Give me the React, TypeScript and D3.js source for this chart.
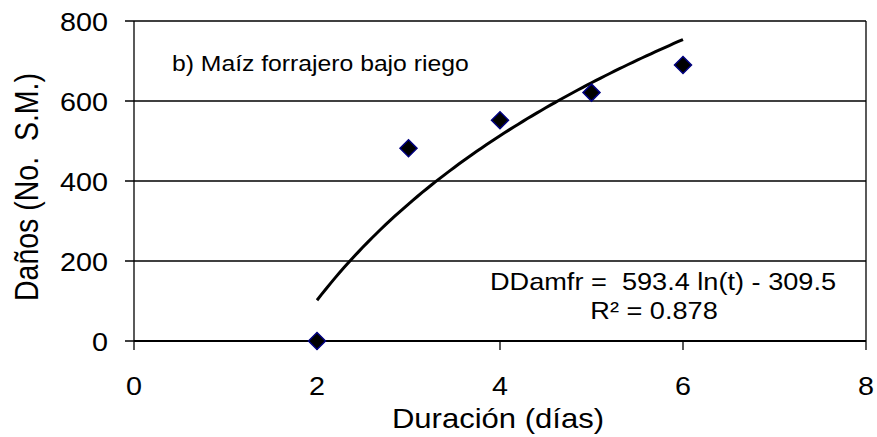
import React from "react";
import * as d3 from "d3";

const days = [2, 3, 4, 5, 6];
const damage = [0, 482, 552, 621, 690];
const xTicks = [0, 2, 4, 6, 8];
const yTicks = [0, 200, 400, 600, 800];
const fitA = 593.4;
const fitB = -309.5;

const W = 877;
const H = 437;
const left = 134;
const right = 866;
const top = 21;
const bottom = 341;
const SX = 1.15; // horizontal glyph stretch

type LabelProps = {
  x: number;
  y: number;
  size: number;
  anchor?: "start" | "middle" | "end";
  rotate?: number;
  children: React.ReactNode;
};

function Label({ x, y, size, anchor = "start", rotate = 0, children }: LabelProps) {
  return (
    <g transform={`translate(${x},${y}) scale(${SX},1) rotate(${rotate})`}>
      <text x={0} y={0} fontSize={size} textAnchor={anchor} style={{ whiteSpace: "pre" }}>
        {children}
      </text>
    </g>
  );
}

export default function App() {
  const x = d3.scaleLinear().domain([0, 8]).range([left, right]);
  const y = d3.scaleLinear().domain([0, 800]).range([bottom, top]);
  const font = "'Liberation Sans', Arial, sans-serif";

  const fitPts = d3.range(2, 6.0001, 0.05).map((t) => [t, fitA * Math.log(t) + fitB] as [number, number]);
  const line = d3
    .line<[number, number]>()
    .x((d) => x(d[0]))
    .y((d) => y(d[1]))
    .curve(d3.curveMonotoneX);

  const r = 8.5;
  const diamond = `M0,${-r}L${r},0L0,${r}L${-r},0Z`;

  return (
    <svg width={W} height={H} style={{ position: "absolute", left: 0, top: 0, background: "#fff" }} fontFamily={font}>
      <rect x={0} y={0} width={W} height={H} fill="#fff" />
      {yTicks.map((v) => (
        <g key={v}>
          <line x1={left - 9} x2={right} y1={y(v)} y2={y(v)} stroke="#000" strokeWidth={1.3} />
          <Label x={108} y={y(v) + 10} size={25} anchor="end">
            {v}
          </Label>
        </g>
      ))}
      <line x1={left} x2={left} y1={top} y2={bottom} stroke="#000" strokeWidth={1.3} />
      <line x1={right} x2={right} y1={top} y2={bottom} stroke="#000" strokeWidth={1.3} />
      <line x1={left} x2={right} y1={bottom} y2={bottom} stroke="#000" strokeWidth={2} />
      {xTicks.map((v) => (
        <g key={v}>
          <line x1={x(v)} x2={x(v)} y1={bottom} y2={bottom + 9} stroke="#000" strokeWidth={1.3} />
          <Label x={x(v)} y={395} size={25} anchor="middle">
            {v}
          </Label>
        </g>
      ))}
      <path d={line(fitPts) ?? ""} fill="none" stroke="#000" strokeWidth={3} />
      {days.map((d, i) => (
        <path
          key={d}
          d={diamond}
          transform={`translate(${x(d)},${y(damage[i])})`}
          fill="#000"
          stroke="#000080"
          strokeWidth={1.5}
        />
      ))}
      <Label x={172} y={71} size={21.5}>
        b) Maíz forrajero bajo riego
      </Label>
      <Label x={490} y={290} size={23.6}>
        {"DDamfr =  593.4 ln(t) - 309.5"}
      </Label>
      <Label x={654} y={319} size={23.6} anchor="middle">
        R² = 0.878
      </Label>
      <Label x={498} y={428} size={27} anchor="middle">
        Duración (días)
      </Label>
      <Label x={38} y={187} size={28.5} anchor="middle" rotate={-90}>
        {"Daños (No.  S.M.)"}
      </Label>
    </svg>
  );
}
